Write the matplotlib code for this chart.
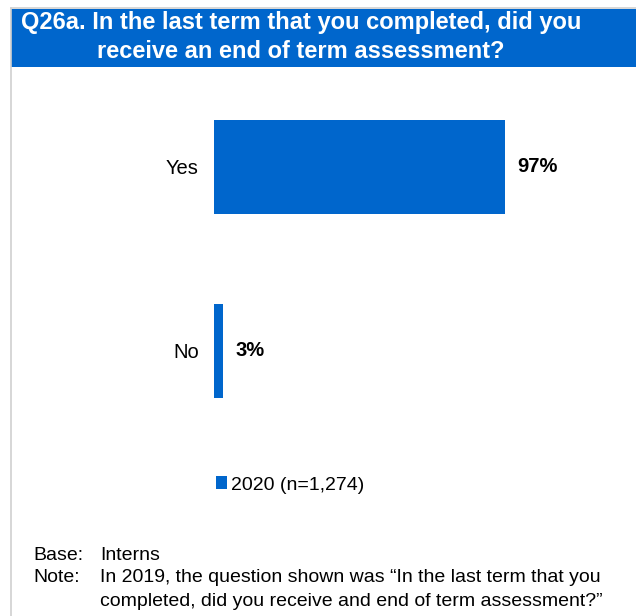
import matplotlib.pyplot as plt
from matplotlib.patches import Rectangle
from matplotlib.lines import Line2D

plt.rcParams['font.family'] = ['Liberation Sans', 'DejaVu Sans']

categories = ['Yes', 'No']
values = [97, 3]
series_name = '2020 (n=1,274)'
title_lines = ['Q26a. In the last term that you completed, did you',
               'receive an end of term assessment?']
base_text = 'Interns'
note_lines = ['In 2019, the question shown was \u201cIn the last term that you',
              'completed, did you receive and end of term assessment?\u201d']

blue = '#0066CC'
W, H = 636, 616
fig = plt.figure(figsize=(W / 100, H / 100), dpi=100)

# frame + header
fig.add_artist(Line2D([11 / W, 1], [1 - 8 / H, 1 - 8 / H], color='#D0D0D0', lw=1.2))
fig.add_artist(Line2D([11 / W, 11 / W], [0, 1 - 8 / H], color='#D0D0D0', lw=1.2))
fig.add_artist(Rectangle((11 / W, 1 - 67 / H), 1 - 11 / W, 58 / H, color=blue, lw=0))
fig.text(301 / W, 1 - 23 / H, title_lines[0], color='white', fontsize=17,
         fontweight='bold', ha='center', va='center')
fig.text(301 / W, 1 - 52 / H, title_lines[1], color='white', fontsize=17,
         fontweight='bold', ha='center', va='center')

# bars
ax = fig.add_axes([214 / W, (616 - 443) / H, 300 / W, 368 / H])
y = list(range(len(categories)))
ax.barh(y, values, height=0.51, color=blue, label=series_name)
ax.set_xlim(0, 100)
ax.set_ylim(1.5, -0.5)
ax.set_yticks(y)
ax.set_yticklabels(categories, fontsize=14.5)
ax.tick_params(axis='y', length=0, pad=11)
ax.set_xticks([])
for s in ax.spines.values():
    s.set_visible(False)
for yi, v in zip(y, values):
    ax.annotate(f'{v}%', (v, yi), xytext=(9, 0), textcoords='offset points',
                va='center', ha='left', fontsize=14.5, fontweight='bold')

ax.legend(loc='center', bbox_to_anchor=((290 - 214) / 300, (443 - 485) / 368),
          frameon=False, fontsize=14, handlelength=0.6, handleheight=0.6,
          handletextpad=0.2)

# footer
fs = 14
fig.text(33 / W, 1 - 555 / H, 'Base:', fontsize=fs, va='center')
fig.text(100 / W, 1 - 555 / H, base_text, fontsize=fs, va='center')
fig.text(33 / W, 1 - 578 / H, 'Note:', fontsize=fs, va='center')
fig.text(100 / W, 1 - 578 / H, note_lines[0], fontsize=fs, va='center')
fig.text(100 / W, 1 - 602 / H, note_lines[1], fontsize=fs, va='center')

fig.savefig('out.png', dpi=100)
